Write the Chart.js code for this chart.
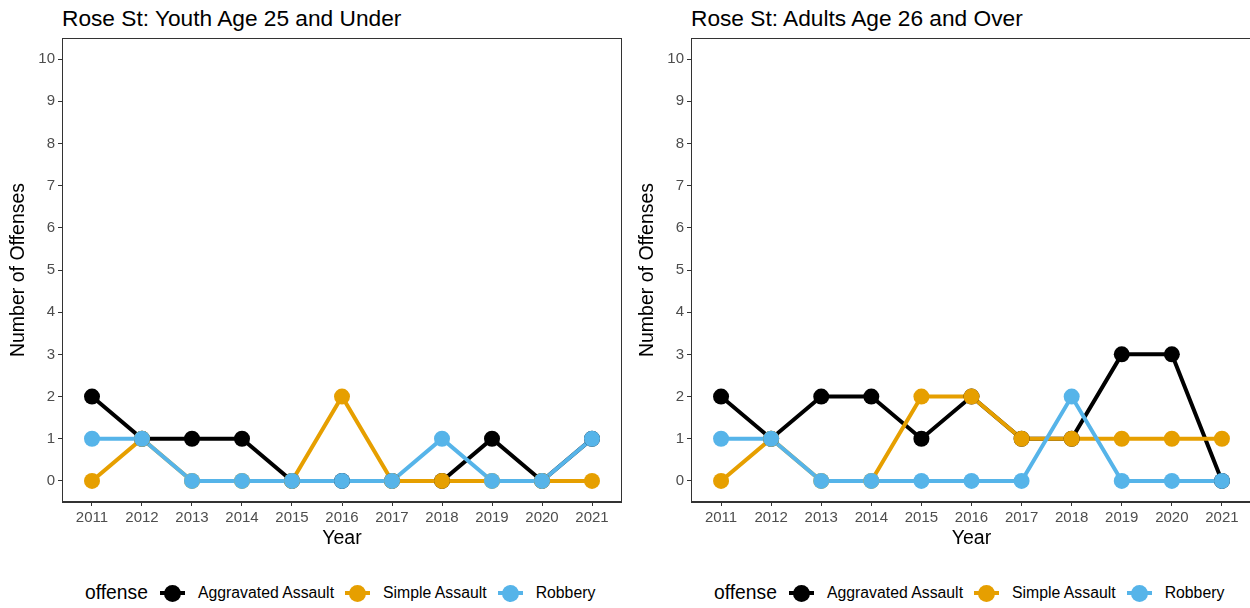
<!DOCTYPE html>
<html>
<head>
<meta charset="utf-8">
<script src="https://cdn.jsdelivr.net/npm/chart.js@4.4.0/dist/chart.umd.min.js"></script>
<style>
  body { margin: 0; width: 1250px; height: 608px; overflow: hidden; background: #fff; font-family: "Liberation Sans", Arial, sans-serif; position: relative; }
  .title { position: absolute; top: 5px; font-size: 22.7px; color: #000; white-space: nowrap; }
  canvas { position: absolute; top: 0; }
  .legend { position: absolute; top: 580px; height: 26px; display: flex; align-items: center; white-space: nowrap; }
  .legend .lt { font-size: 19.3px; color: #000; margin-right: 12px; }
  .legend .key { position: relative; width: 25px; height: 20px; margin-right: 13px; }
  .legend .key .ln { position: absolute; left: 0; right: 0; top: 8px; height: 4px; }
  .legend .key .pt { position: absolute; left: 4px; top: 1.5px; width: 17px; height: 17px; border-radius: 50%; }
  .legend .lab { font-size: 15.8px; color: #000; margin-right: 11px; }
</style>
</head>
<body>
<div class="title" style="left:62px">Rose St: Youth Age 25 and Under</div>
<div class="title" style="left:691px">Rose St: Adults Age 26 and Over</div>
<canvas id="chartYouth" width="622" height="550" style="left:0"></canvas>
<canvas id="chartAdult" width="623" height="550" style="left:629px"></canvas>
<div class="legend" id="legYouth" style="left:85px"></div>
<div class="legend" id="legAdult" style="left:714px"></div>
<script>
// data
var years = [2011, 2012, 2013, 2014, 2015, 2016, 2017, 2018, 2019, 2020, 2021];
var yTicks = [0, 1, 2, 3, 4, 5, 6, 7, 8, 9, 10];
var offenses = ["Aggravated Assault", "Simple Assault", "Robbery"];
var colors = ["#000000", "#E69F00", "#56B4E9"];

var youthAggravated = [2, 1, 1, 1, 0, 0, 0, 0, 1, 0, 1];
var youthSimple = [0, 1, 0, 0, 0, 2, 0, 0, 0, 0, 0];
var youthRobbery = [1, 1, 0, 0, 0, 0, 0, 1, 0, 0, 1];

var adultAggravated = [2, 1, 2, 2, 1, 2, 1, 1, 3, 3, 0];
var adultSimple = [0, 1, 0, 0, 2, 2, 1, 1, 1, 1, 1];
var adultRobbery = [1, 1, 0, 0, 0, 0, 0, 2, 0, 0, 0];

var tickFont = { family: "'Liberation Sans', Arial, sans-serif", size: 15 };
var titleFont = { family: "'Liberation Sans', Arial, sans-serif", size: 19.5 };

// box round the panel (top and right sides too)
var panelBorder = {
  id: "panelBorder",
  afterDraw: function (chart) {
    var a = chart.chartArea;
    var ctx = chart.ctx;
    ctx.save();
    ctx.strokeStyle = "#333333";
    ctx.lineWidth = 1;
    ctx.strokeRect(a.left + 0.5, a.top + 0.5, a.right - a.left - 1, a.bottom - a.top - 1);
    ctx.restore();
  },
};

function toPoints(vals) {
  var pts = [];
  for (var i = 0; i < years.length; i++) pts.push({ x: years[i], y: vals[i] });
  return pts;
}

function makeChart(id, series) {
  var datasets = [];
  // lines first (drawn underneath), then points, like ggplot
  for (var i = 0; i < series.length; i++) {
    datasets.push({
      label: offenses[i],
      data: toPoints(series[i]),
      borderColor: colors[i],
      backgroundColor: colors[i],
      borderWidth: 4,
      pointRadius: 0,
      pointHoverRadius: 0,
      tension: 0,
      order: 10 - i,
    });
  }
  for (var j = 0; j < series.length; j++) {
    datasets.push({
      label: offenses[j],
      data: toPoints(series[j]),
      showLine: false,
      borderColor: colors[j],
      backgroundColor: colors[j],
      pointRadius: 8,
      pointBorderWidth: 0,
      pointHoverRadius: 8,
      order: 5 - j,
    });
  }
  var ctx = document.getElementById(id).getContext("2d");
  return new Chart(ctx, {
    type: "line",
    data: { datasets: datasets },
    plugins: [panelBorder],
    options: {
      responsive: false,
      animation: false,
      layout: { autoPadding: false, padding: { top: 38, left: 0, right: 0, bottom: 0 } },
      plugins: {
        legend: { display: false },
        tooltip: { enabled: false },
        title: { display: false },
      },
      scales: {
        x: {
          type: "linear",
          min: 2010.4,
          max: 2021.6,
          afterBuildTicks: function (scale) {
            scale.ticks = years.map(function (v) { return { value: v }; });
          },
          afterFit: function (scale) {
            scale.height = 48;
            scale.paddingLeft = 0;
            scale.paddingRight = 0;
          },
          ticks: {
            autoSkip: false,
            maxRotation: 0,
            padding: 3,
            color: "#4d4d4d",
            font: tickFont,
            callback: function (v) { return String(v); },
          },
          grid: { drawOnChartArea: false, drawTicks: true, tickLength: 4, tickColor: "#333333" },
          border: { display: true, color: "#333333", width: 1 },
          title: { display: true, text: "Year", color: "#000", font: titleFont, padding: { top: 0, bottom: 0 } },
        },
        y: {
          type: "linear",
          min: -0.5,
          max: 10.5,
          afterBuildTicks: function (scale) {
            scale.ticks = yTicks.map(function (v) { return { value: v }; });
          },
          afterFit: function (scale) {
            scale.width = 62;
            scale.paddingTop = 0;
            scale.paddingBottom = 0;
          },
          ticks: { padding: 3, color: "#4d4d4d", font: tickFont },
          grid: { drawOnChartArea: false, drawTicks: true, tickLength: 4, tickColor: "#333333" },
          border: { display: true, color: "#333333", width: 1 },
          title: { display: true, text: "Number of Offenses", color: "#000", font: titleFont, padding: { top: 7, bottom: 0 } },
        },
      },
    },
  });
}

function makeLegend(id) {
  var html = '<span class="lt">offense</span>';
  for (var i = 0; i < offenses.length; i++) {
    html += '<span class="key"><span class="ln" style="background:' + colors[i] + '"></span>';
    html += '<span class="pt" style="background:' + colors[i] + '"></span></span>';
    html += '<span class="lab">' + offenses[i] + "</span>";
  }
  document.getElementById(id).innerHTML = html;
}

makeChart("chartYouth", [youthAggravated, youthSimple, youthRobbery]);
makeChart("chartAdult", [adultAggravated, adultSimple, adultRobbery]);
makeLegend("legYouth");
makeLegend("legAdult");
</script>
</body>
</html>
